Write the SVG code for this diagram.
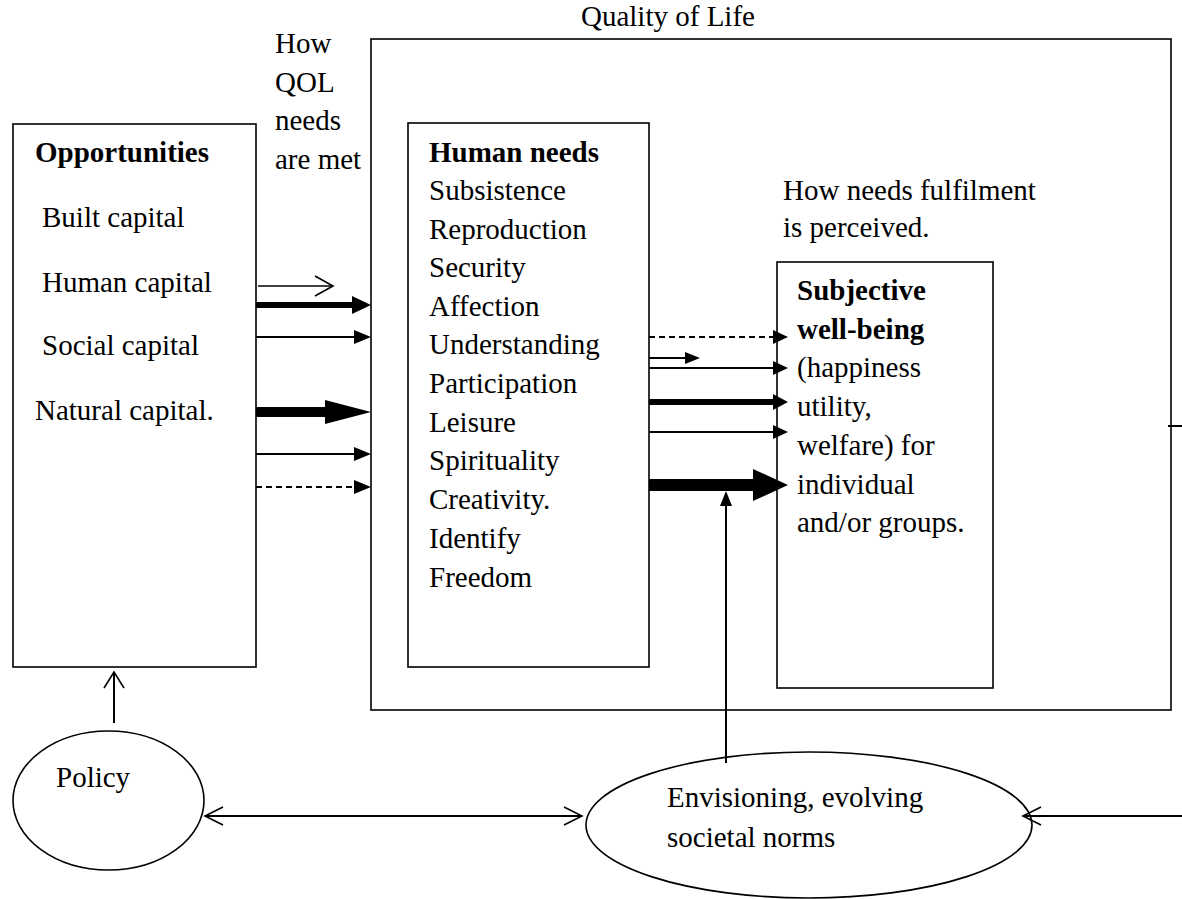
<svg xmlns="http://www.w3.org/2000/svg" width="1182" height="899" viewBox="0 0 1182 899">
<style>
text{font-family:"Liberation Serif","Times New Roman",serif;font-size:29px;fill:#000}
.b{font-weight:bold}
.box{fill:none;stroke:#000;stroke-width:1.6}
.ln{stroke:#000;fill:none}
.t1{stroke-width:1.6}
.t2{stroke-width:2}
.dash{stroke-width:2;stroke-dasharray:6,4}
.head{fill:#000;stroke:none}
.open{fill:none;stroke:#000;stroke-width:1.6}
</style>
<rect width="1182" height="899" fill="#fff"/>
<g id="quality-of-life">
<rect class="box" x="371" y="39" width="800" height="671"/>
<text x="581" y="26">Quality of Life</text>
</g>
<g id="how-qol-label">
<text x="275" y="53">How</text>
<text x="275" y="92">QOL</text>
<text x="275" y="130">needs</text>
<text x="275" y="169">are met</text>
</g>
<g id="opportunities">
<rect class="box" x="13" y="124" width="243" height="543"/>
<text class="b" x="35" y="162">Opportunities</text>
<text x="42" y="227">Built capital</text>
<text x="42" y="292">Human capital</text>
<text x="42" y="355">Social capital</text>
<text x="35" y="420">Natural capital.</text>
</g>
<g id="human-needs">
<rect class="box" x="408" y="123" width="241" height="544"/>
<text class="b" x="429" y="162">Human needs</text>
<text x="429" y="200">Subsistence</text>
<text x="429" y="238.5">Reproduction</text>
<text x="429" y="277">Security</text>
<text x="429" y="316">Affection</text>
<text x="429" y="354">Understanding</text>
<text x="429" y="393">Participation</text>
<text x="429" y="432">Leisure</text>
<text x="429" y="470">Spirituality</text>
<text x="429" y="509">Creativity.</text>
<text x="429" y="548">Identify</text>
<text x="429" y="587">Freedom</text>
</g>
<g id="needs-perception-label">
<text x="783" y="200">How needs fulfilment</text>
<text x="783" y="237">is perceived.</text>
</g>
<g id="subjective-well-being">
<rect class="box" x="777" y="262" width="216" height="426"/>
<text class="b" x="797" y="300">Subjective</text>
<text class="b" x="797" y="338.7">well-being</text>
<text x="797" y="377.4">(happiness</text>
<text x="797" y="416">utility,</text>
<text x="797" y="454.8">welfare) for</text>
<text x="797" y="493.5">individual</text>
<text x="797" y="532">and/or groups.</text>
</g>
<g id="policy">
<ellipse class="box" cx="108.5" cy="800.5" rx="95.5" ry="69.5"/>
<text x="56" y="787">Policy</text>
</g>
<g id="societal-norms">
<ellipse class="box" cx="809" cy="825" rx="223" ry="73"/>
<text x="667" y="807">Envisioning, evolving</text>
<text x="667" y="847">societal norms</text>
</g>
<g id="connectors">
<line class="ln t1" x1="258" y1="286" x2="333" y2="286"/>
<polyline class="open" points="315,276 333,286 315,296"/>
<line class="ln" stroke-width="6" x1="256" y1="305" x2="353" y2="305"/>
<polygon class="head" points="352,296 371,305 352,314"/>
<line class="ln t2" x1="256" y1="337" x2="355" y2="337"/>
<polygon class="head" points="354,330 371,337 354,344"/>
<line class="ln" stroke-width="10" x1="256" y1="412" x2="326" y2="412"/>
<polygon class="head" points="325,400 371,412 325,424"/>
<line class="ln t2" x1="256" y1="454" x2="355" y2="454"/>
<polygon class="head" points="354,447 371,454 354,461"/>
<line class="ln dash" x1="256" y1="487" x2="355" y2="487"/>
<polygon class="head" points="354,480 371,487 354,494"/>
<line class="ln dash" x1="649" y1="337" x2="774" y2="337"/>
<polygon class="head" points="773,330 788,337 773,344"/>
<line class="ln t2" x1="649" y1="358" x2="686" y2="358"/>
<polygon class="head" points="685,352 700,358 685,364"/>
<line class="ln t2" x1="649" y1="368" x2="774" y2="368"/>
<polygon class="head" points="773,361 788,368 773,375"/>
<line class="ln" stroke-width="6" x1="649" y1="402" x2="774" y2="402"/>
<polygon class="head" points="773,394 788,402 773,410"/>
<line class="ln t2" x1="649" y1="432" x2="774" y2="432"/>
<polygon class="head" points="773,425 788,432 773,439"/>
<line class="ln" stroke-width="12" x1="649" y1="485" x2="754" y2="485"/>
<polygon class="head" points="753,469 788,485 753,501"/>
<line class="ln t2" x1="726" y1="763" x2="726" y2="505"/>
<polygon class="head" points="720,506 726,491 732,506"/>
<line class="ln t2" x1="114" y1="723" x2="114" y2="673"/>
<polyline class="open" points="104,688 114,672 124,688"/>
<line class="ln t2" x1="205" y1="816" x2="582" y2="816"/>
<polyline class="open" points="223,807 205,816 223,825"/>
<polyline class="open" points="564,807 582,816 564,825"/>
<line class="ln t2" x1="1168" y1="426" x2="1182" y2="426"/>
<line class="ln t2" x1="1182" y1="816" x2="1024" y2="816"/>
<polyline class="open" points="1041,807 1023,816 1041,825"/>
</g>
</svg>
